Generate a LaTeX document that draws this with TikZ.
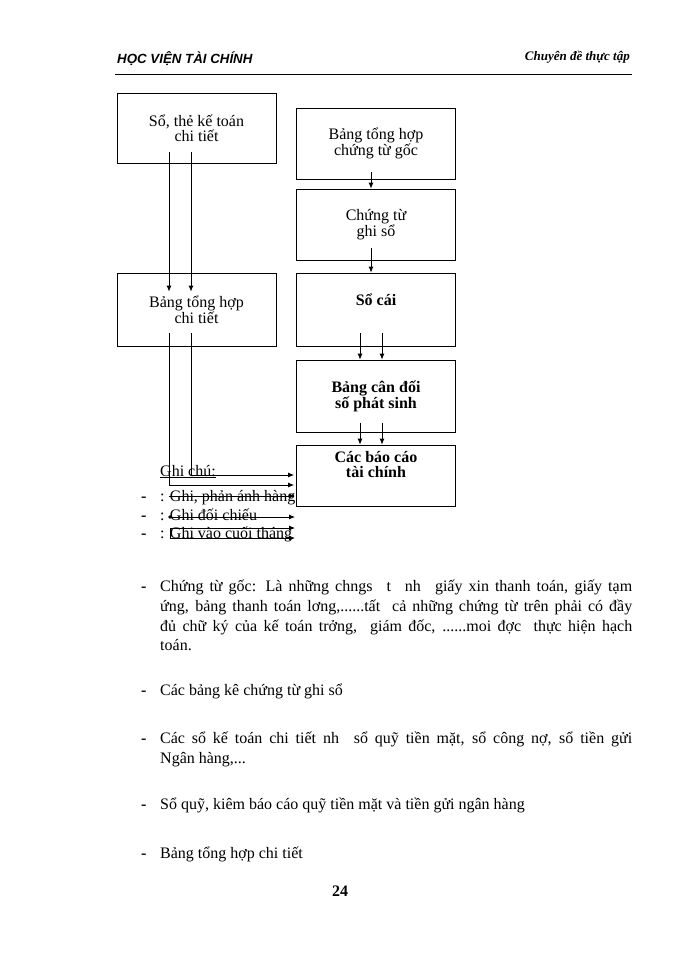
\documentclass[tikz,border=0pt]{standalone}
\usepackage{fontspec}
\setmainfont{Liberation Serif}
\newfontfamily\headfont{Liberation Sans}
\usetikzlibrary{arrows.meta}

\begin{document}
\begin{tikzpicture}[
		x=1pt, y=-1pt,
		% Riquadri dello schema (testo normale)
		box style/.style={draw, line width=0.8pt, minimum width=159pt, minimum height=71pt, inner sep=0pt, align=center, font=\fontsize{16}{15}\selectfont},
		% Riquadri con testo in grassetto
		bold box/.style={box style, font=\fontsize{16}{15}\selectfont\bfseries},
		% Stile per le frecce e le linee
		arrow style/.style={line width=0.8pt, -{Latex[length=6pt,width=5pt]}},
		line style/.style={line width=0.8pt},
		% Testo della pagina
		text style/.style={anchor=base west, inner sep=0pt, font=\fontsize{16}{19.5}\selectfont}
	]
	\useasboundingbox (0,0) rectangle (700,960);

	% =================================
	% INTESTAZIONE
	% =================================
	\node[anchor=base west, inner sep=0pt, font=\headfont\fontsize{13.3}{13}\selectfont\bfseries\itshape] (hv) at (117,64) {HỌC VIỆN TÀI CHÍNH};
	\node[anchor=base east, inner sep=0pt, font=\fontsize{13}{13}\selectfont\bfseries\itshape] (cd) at (630,61) {Chuyên đề thực tập};
	\draw[line width=1pt] (115,75) -- (632,75);

	% =================================
	% COLONNA SINISTRA
	% =================================
	\node[box style, minimum height=70pt] (soct) at (196.5,128) {Sổ, thẻ kế toán\\chi tiết};
	\node[box style, minimum height=73pt] (thct) at (196.5,309.5) {Bảng tổng hợp\\chi tiết};

	% =================================
	% COLONNA DESTRA
	% =================================
	\node[box style] (thgoc) at (376,143.5) {Bảng tổng hợp\\chứng từ gốc};
	\node[box style] (ctgs) at (376,224.5) {Chứng từ\\ghi sổ};
	\node[bold box, minimum height=73pt, text depth=19.5pt] (socai) at (376,309.5) {Sổ cái};
	\node[bold box, minimum height=72pt] (cdps) at (376,396) {Bảng cân đối\\số phát sinh};
	\node[bold box, minimum height=61pt, text depth=22pt] (bctc) at (376,475.5) {Các báo cáo\\tài chính};

	% =================================
	% CONNESSIONI
	% =================================
	% Colonna destra, dall'alto in basso
	\draw[arrow style] ([xshift=-5pt,yshift=7pt]thgoc.south) -- ([xshift=-5pt]ctgs.north);
	\draw[arrow style] ([xshift=-5pt,yshift=12pt]ctgs.south) -- ([xshift=-5pt]socai.north);
	\draw[arrow style] ([xshift=-16pt,yshift=13pt]socai.south) -- ([xshift=-16pt]cdps.north);
	\draw[arrow style] ([xshift=6pt,yshift=13pt]socai.south) -- ([xshift=6pt]cdps.north);
	\draw[arrow style] ([xshift=-16pt,yshift=9pt]cdps.south) -- ([xshift=-16pt]bctc.north);
	\draw[arrow style] ([xshift=6pt,yshift=9pt]cdps.south) -- ([xshift=6pt]bctc.north);

	% Colonna sinistra
	\draw[arrow style] ([xshift=-27.5pt,yshift=11pt]soct.south) -- ([xshift=-27.5pt,yshift=-19pt]thct.north);
	\draw[arrow style] ([xshift=-5.5pt,yshift=11pt]soct.south) -- ([xshift=-5.5pt,yshift=-19pt]thct.north);
	\draw[arrow style] ([xshift=-5.5pt,yshift=13pt]thct.south) |- ([xshift=-2pt,yshift=0.5pt]bctc.west);
	\draw[arrow style] ([xshift=-27.5pt,yshift=13pt]thct.south) |- ([xshift=-2pt,yshift=-9.5pt]bctc.west);

	% =================================
	% LEGENDA
	% =================================
	\node[text style] (gc) at (160,476) {\underline{Ghi chú:}};
	\node[text style] (l1) at (160,501) {: Ghi, phản ánh hàng};
	\node[text style] (l2) at (160,520) {: Ghi đối chiếu};
	\node[text style] (l3) at (160,538) {: Ghi vào cuối tháng};

	\coordinate (g1) at (169,496);
	\coordinate (h1) at (295,496);
	\coordinate (g2) at (170,517);
	\coordinate (h2) at (295,517);
	\coordinate (g3) at (170,528);
	\coordinate (h3) at (295,528);
	\coordinate (g4) at (170,538);
	\coordinate (h4) at (295,538);

	\draw[arrow style] (g1) -- (h1);
	\fill (g2) circle (1.8pt);
	\draw[arrow style] (g2) -- (h2);
	\draw[arrow style] (g3) -- (h3);
	\draw[arrow style] (g4) -- (h4);
	\draw[line style] (g3) -- (g4);

	% =================================
	% TESTO SOTTO LO SCHEMA
	% =================================
	% Trattini degli elenchi
	\foreach \y [count=\i] in {501,520,538,591,695,743,809,858}
		\node[text style] (d\i) at (141,\y) {\textbf{-}};

	\node[text style] (p1) at (160,591) {\hbox to 472pt{Chứng từ gốc: Là những chngs\hspace{8pt} t\hspace{8pt} nh\hspace{8pt} giấy xin thanh toán, giấy tạm}};
	\node[text style] (p2) at (160,611) {\hbox to 472pt{ứng, bảng thanh toán lơng,......tất\hspace{6pt} cả những chứng từ trên phải có đầy}};
	\node[text style] (p3) at (160,631) {\hbox to 472pt{đủ chữ ký của kế toán trởng,\hspace{6pt} giám đốc, ......moi đợc\hspace{6pt} thực hiện hạch}};
	\node[text style] (p4) at (160,650) {toán.};

	\node[text style] (q1) at (160,695) {Các bảng kê chứng từ ghi sổ};

	\node[text style] (r1) at (160,743) {\hbox to 472pt{Các sổ kế toán chi tiết nh\hspace{8pt} sổ quỹ tiền mặt, sổ công nợ, sổ tiền gửi}};
	\node[text style] (r2) at (160,763) {Ngân hàng,...};

	\node[text style] (s1) at (160,809) {Sổ quỹ, kiêm báo cáo quỹ tiền mặt và tiền gửi ngân hàng};
	\node[text style] (t1) at (160,858) {Bảng tổng hợp chi tiết};

	% Numero di pagina
	\node[anchor=base, inner sep=0pt, font=\fontsize{16}{16}\selectfont\bfseries] (pg) at (340,896) {24};

\end{tikzpicture}
\end{document}
